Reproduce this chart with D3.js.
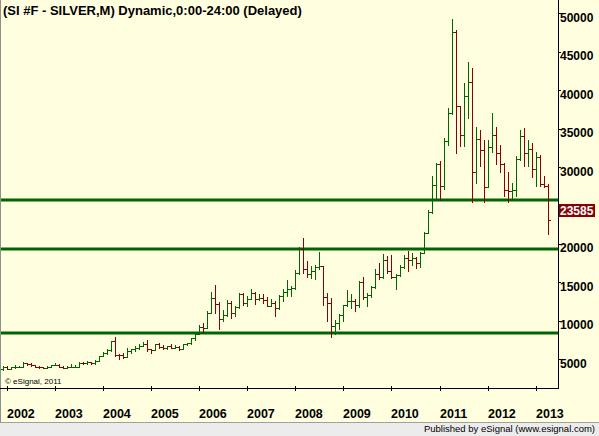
<!DOCTYPE html>
<html>
<head>
<meta charset="utf-8">
<script src="https://cdn.jsdelivr.net/npm/d3@7"></script>
<style>
  body { margin: 0; background: #fff; }
  svg { display: block; font-family: "Liberation Sans", Arial, sans-serif; }
</style>
</head>
<body>
<svg width="599" height="436"></svg>
<script>
// monthly bars, first one is Dec 2001
const firstMonth = "2001-12";

const opens = [4200,
  4580,4240,4470,4580,4580,4990,4920,4720,4560,4530,4450,4530,
  4790,4800,4580,4390,4550,4550,4570,5080,5070,5120,5050,5350,
  5960,6280,6680,7900,6110,6050,5850,6580,6800,6970,7270,7560,
  6820,6740,7450,7130,7000,7200,7050,7130,6850,7520,7700,8250,
  8840,9670,9630,11600,13430,12680,10800,11230,12850,11550,12300,13950,
  12900,13350,14180,13300,13450,13250,12450,12900,12150,13750,14250,14650,
  14850,16800,19850,17250,16600,16950,17550,17600,13650,12900,9800,10250,
  11300,12550,13050,13100,12550,15600,13600,13900,14900,16650,16250,18450,
  16950,16200,16450,17550,18650,18400,18700,18000,19400,21900,24700,28200,
  30900,28100,33900,37600,48100,38400,34700,39700,41600,29900,34200,32700,
  27900,33100,34700,32300,30900,27600,27400,27600,31600,34600,32300,32900,
  30300,31800,28300,28100];

const highs = [4700,
  4650,4520,4720,4640,5110,5060,5080,4780,4700,4560,4600,4830,
  4990,4900,4680,4700,4850,4730,5150,5170,5300,5200,5400,5990,
  6500,6800,7950,8400,6200,6300,6950,6900,7200,7450,7800,8050,
  6900,7550,7600,7400,7300,7450,7400,7250,7550,7700,8300,9100,
  9980,10200,11750,14250,15200,12950,11900,13200,13100,12400,14100,14150,
  13750,14600,14250,14050,13950,13600,13300,13050,13850,14600,15850,15000,
  17150,20100,21300,18250,17700,17750,19450,17600,14100,13500,10600,11450,
  12550,14500,13950,13400,15650,16200,14100,15050,17300,18050,19200,19000,
  19050,16650,17800,19150,19650,19350,18850,19500,22100,24950,29350,31000,
  31300,34300,38200,49800,48400,38500,41400,44200,43400,35700,35300,34000,
  34100,37600,35700,33400,31000,29900,28400,31900,35300,35600,34100,33700,
  32500,32100,29300,28300];

const lows = [4150,
  4220,4210,4450,4470,4550,4800,4700,4500,4450,4360,4400,4500,
  4720,4550,4350,4370,4530,4500,4550,4900,4950,4900,4900,5300,
  5950,6200,6600,5900,5500,5650,5800,6400,6600,6900,7200,6550,
  6400,6700,7000,6900,6900,6950,6980,6750,6800,7350,7550,8050,
  8800,9000,9550,11500,11600,9500,10550,11100,10900,11150,12200,12550,
  12500,13300,12650,13250,12900,12400,12450,11150,12050,13100,13800,13750,
  14650,16600,16750,16250,16100,15950,17300,12550,10450,8450,8800,9400,
  10500,12400,12200,11850,12300,13350,12500,13600,14800,16000,16050,16750,
  16100,14650,16400,17400,16950,17750,17350,17550,19300,21900,24550,26350,
  26200,27700,33400,37400,32300,33300,33300,36900,26000,28400,30600,26000,
  27900,32500,30900,29900,26700,26000,26300,26800,31400,30600,30600,29200,
  28000,28000,27900,21800];

const closes = [4580,
  4240,4470,4580,4580,4990,4920,4720,4560,4530,4450,4530,4790,
  4800,4580,4390,4550,4550,4570,5080,5070,5120,5050,5350,5960,
  6280,6680,7900,6110,6050,5850,6580,6800,6970,7270,7560,6820,
  6740,7450,7130,7000,7200,7050,7130,6850,7520,7700,8250,8840,
  9670,9630,11600,13430,12680,10800,11230,12850,11550,12300,13950,12900,
  13350,14180,13300,13450,13250,12450,12900,12150,13750,14250,14650,14850,
  16800,19850,17250,16600,16950,17550,17600,13650,12900,9800,10250,11300,
  12550,13050,13100,12550,15600,13600,13900,14900,16650,16250,18450,16950,
  16200,16450,17550,18650,18400,18700,18000,19400,21900,24700,28200,30900,
  28100,33900,37600,48100,38400,34700,39700,41600,29900,34200,32700,27900,
  33100,34700,32300,30900,27600,27400,27600,31600,34600,32300,32900,30300,
  31800,28300,28100,23585];

const yearLabels = ["2002","2003","2004","2005","2006","2007","2008","2009","2010","2011","2012","2013"];
const priceTicks = [5000,10000,15000,20000,25000,30000,35000,40000,45000,50000];
const supportLevels = [26300, 19900, 8950];
const lastPrice = 23585;
const title = "(SI #F - SILVER,M) Dynamic,0:00-24:00 (Delayed)";

const W = 599, H = 436;
const plotRight = 558, plotBottom = 388;
const green = "#006400", red = "#8b0000";

const svg = d3.select("svg");

let bars = opens.map((o, i) => ({i: i, o: o, h: highs[i], l: lows[i], c: closes[i]}));

// month index -> x, one bar every ~4px
let x = d3.scaleLinear().domain([0, opens.length - 1]).range([3, 547.7]);
let y = d3.scaleLinear().domain([5000, 50000]).range([363.3, 17.3]);
let px = v => Math.round(x(v)) + 0.5;
let py = v => Math.round(y(v)) + 0.5;

svg.append("rect").attr("width", W).attr("height", H).attr("fill", "#ffffe0");

// footer strip
svg.append("rect").attr("x", 0).attr("y", 423).attr("width", W).attr("height", H - 423)
  .attr("fill", "#ececec");
svg.append("line").attr("x1", 0).attr("x2", W).attr("y1", 422.5).attr("y2", 422.5)
  .attr("stroke", "#a0a0a0");
svg.append("text").attr("x", 595).attr("y", 432)
  .attr("text-anchor", "end").style("font-size", "9.5px").attr("fill", "#000")
  .text("Published by eSignal (www.esignal.com)");

svg.append("line").attr("x1", 0.5).attr("x2", 0.5).attr("y1", 0).attr("y2", 423)
  .attr("stroke", "#909090");

// horizontal support lines
svg.append("g").selectAll("line")
  .data(supportLevels)
  .join("line")
  .attr("x1", 1).attr("x2", plotRight)
  .attr("y1", d => Math.round(y(d))).attr("y2", d => Math.round(y(d)))
  .attr("stroke", green).attr("stroke-width", 3);

// OHLC bars
let barG = svg.append("g").selectAll("g")
  .data(bars)
  .join("g")
  .attr("stroke", d => d.c >= d.o ? green : red)
  .attr("stroke-width", 1);

barG.append("line")
  .attr("x1", d => px(d.i)).attr("x2", d => px(d.i))
  .attr("y1", d => Math.round(y(d.h))).attr("y2", d => Math.round(y(d.l)) + 1);
barG.append("line")
  .attr("x1", d => px(d.i) - 2.5).attr("x2", d => px(d.i) - 0.5)
  .attr("y1", d => py(d.o)).attr("y2", d => py(d.o));
barG.append("line")
  .attr("x1", d => px(d.i) + 0.5).attr("x2", d => px(d.i) + 2.5)
  .attr("y1", d => py(d.c)).attr("y2", d => py(d.c));

// frame
svg.append("line").attr("x1", plotRight + 0.5).attr("x2", plotRight + 0.5)
  .attr("y1", 0).attr("y2", plotBottom + 1).attr("stroke", "#000");
svg.append("line").attr("x1", 0).attr("x2", plotRight + 1)
  .attr("y1", plotBottom + 0.5).attr("y2", plotBottom + 0.5).attr("stroke", "#000");

// x axis: ticks at each January, labels start at the tick
let yearIdx = yearLabels.map((d, k) => 1 + 12 * k);
svg.append("g").selectAll("line")
  .data(yearIdx)
  .join("line")
  .attr("x1", d => px(d)).attr("x2", d => px(d))
  .attr("y1", plotBottom - 2).attr("y2", plotBottom + 3)
  .attr("stroke", "#000");
svg.append("g").selectAll("text")
  .data(yearLabels)
  .join("text")
  .attr("x", (d, k) => Math.round(x(yearIdx[k])))
  .attr("y", 418)
  .style("font-size", "12.5px").style("font-weight", "bold")
  .text(d => d);

// y axis on the right
svg.append("g").selectAll("line")
  .data(priceTicks)
  .join("line")
  .attr("x1", plotRight).attr("x2", plotRight + 3)
  .attr("y1", d => Math.round(y(d)) - 3.5).attr("y2", d => Math.round(y(d)) - 3.5)
  .attr("stroke", "#000");
svg.append("g").selectAll("text")
  .data(priceTicks)
  .join("text")
  .attr("x", 560)
  .attr("y", d => y(d) + 4.5)
  .style("font-size", "12px").style("font-weight", "bold")
  .text(d => d);

// last price marker
svg.append("rect")
  .attr("x", 559).attr("y", Math.round(y(lastPrice)) - 16)
  .attr("width", 36).attr("height", 13)
  .attr("fill", red);
svg.append("text")
  .attr("x", 560).attr("y", Math.round(y(lastPrice)) - 5)
  .attr("fill", "#fff")
  .style("font-size", "12px").style("font-weight", "bold")
  .text(lastPrice);

svg.append("text").attr("x", 3).attr("y", 15)
  .style("font-size", "13px").style("font-weight", "bold")
  .text(title);

svg.append("text").attr("x", 5).attr("y", 384)
  .style("font-size", "8px")
  .text("\u00a9 eSignal, 2011");
</script>
</body>
</html>
